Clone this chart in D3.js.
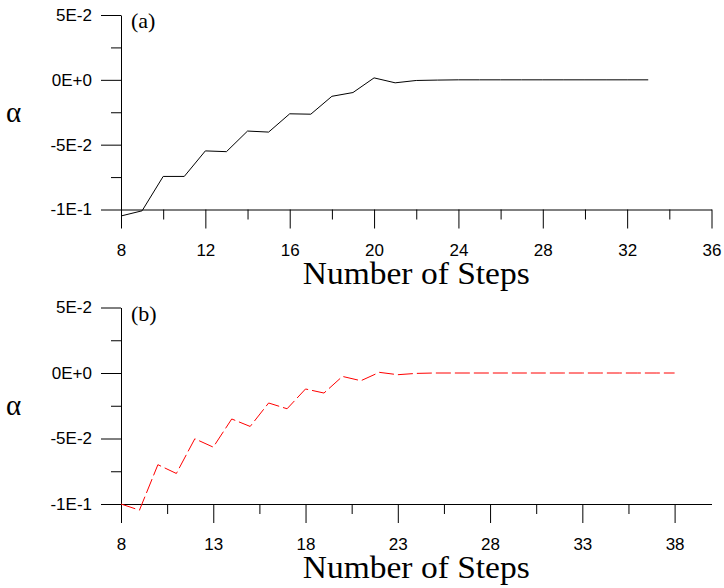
<!DOCTYPE html>
<html lang="en">
<head>
  <meta charset="UTF-8">
  <title>alpha vs number of steps</title>
  <script src="https://d3js.org/d3.v7.min.js"></script>
  <style>
    body { margin: 0; background: #fff; }
    svg { display: block; }
    .tick text { font-family: "Liberation Sans", Arial, sans-serif; font-size: 17px; fill: #000; }
    .tick line, .domain { stroke: #000; }
    .serif { font-family: "Liberation Serif", "Times New Roman", serif; fill: #000; }
  </style>
</head>
<body>
  <div id="chart"></div>

  <script>
    // panel (a): solid black line
    const stepsA = [8, 9, 10, 11, 12, 13, 14, 15, 16, 17, 18, 19, 20, 21, 22, 23, 24, 25, 26, 27, 28, 29, 30, 31, 32, 33];
    const alphaA = [-0.105, -0.101, -0.0745, -0.0745, -0.0548, -0.0554, -0.0395, -0.0403, -0.0262, -0.0265,
                    -0.0127, -0.0098, 0.0015, -0.0023, -0.0005, -0.0002, 0, 0, 0, 0, 0, 0, 0, 0, 0, 0];

    // panel (b): red dashed line
    const stepsB = [8, 9, 10, 11, 12, 13, 14, 15, 16, 17, 18, 19, 20, 21, 22, 23, 24, 25, 26, 27, 28, 29, 30,
                    31, 32, 33, 34, 35, 36, 37, 38];
    const alphaB = [-0.1, -0.1047, -0.07, -0.0767, -0.0502, -0.0566, -0.0351, -0.0408, -0.0229, -0.0273,
                    -0.0122, -0.0153, -0.0026, -0.0059, 0.0005, -0.0013, -0.0003, 0, 0, 0, 0, 0, 0,
                    0, 0, 0, 0, 0, 0, 0, 0];

    // axis ticks
    const yTicks = [0.05, 0, -0.05, -0.1];
    const yTickLabels = ["5E-2", "0E+0", "-5E-2", "-1E-1"];
    const yMinorTicks = [0.025, -0.025, -0.075];

    const xTicksA = [8, 12, 16, 20, 24, 28, 32, 36];
    const xMinorTicksA = [10, 14, 18, 22, 26, 30, 34];
    const xTicksB = [8, 13, 18, 23, 28, 33, 38];
    const xMinorTicksB = [10.5, 15.5, 20.5, 25.5, 30.5, 35.5];

    const width = 724, height = 588;
    const left = 121, right = 711.5;

    const svg = d3.select("#chart").append("svg")
      .attr("width", width)
      .attr("height", height);

    function drawPanel(opts) {
      const x = d3.scaleLinear().domain(opts.xDomain).range([left, right]);
      const y = d3.scaleLinear().domain([-0.1, 0.05]).range([opts.bottom, opts.top]);
      const g = svg.append("g");

      // minor ticks first
      g.append("g")
        .attr("transform", `translate(${left},0)`)
        .call(d3.axisLeft(y).tickValues(yMinorTicks).tickSize(10).tickFormat(""))
        .call(s => s.select(".domain").remove());
      g.append("g")
        .attr("transform", `translate(0,${opts.bottom})`)
        .call(d3.axisBottom(x).tickValues(opts.xMinor).tickSize(10).tickFormat(""))
        .call(s => s.select(".domain").remove());

      // major ticks with labels
      g.append("g")
        .attr("transform", `translate(${left},0)`)
        .call(d3.axisLeft(y).tickValues(yTicks).tickSize(20).tickSizeOuter(0).tickPadding(9)
          .tickFormat((d, i) => yTickLabels[i]));
      g.append("g")
        .attr("transform", `translate(0,${opts.bottom})`)
        .call(d3.axisBottom(x).tickValues(opts.xTicks).tickSize(19).tickSizeOuter(0))
        .call(s => s.selectAll(".tick text").attr("y", 46).attr("dy", null));

      // the data line
      const line = d3.line()
        .x((d, i) => x(opts.steps[i]))
        .y(d => y(d));
      g.append("path")
        .datum(opts.values)
        .attr("fill", "none")
        .attr("stroke", opts.color)
        .attr("stroke-width", 1)
        .attr("stroke-dasharray", opts.dash)
        .attr("d", line);

      // labels
      g.append("text")
        .attr("class", "serif")
        .attr("x", 6)
        .attr("y", opts.top + 107)
        .attr("font-size", "29px")
        .text("α");

      g.append("text")
        .attr("class", "serif")
        .attr("x", 131)
        .attr("y", opts.top + 13)
        .attr("font-size", "22px")
        .text(opts.tag);

      g.append("text")
        .attr("class", "serif")
        .attr("x", (left + right) / 2)
        .attr("y", opts.bottom + 74)
        .attr("text-anchor", "middle")
        .attr("font-size", "31px")
        .attr("textLength", 227)
        .attr("lengthAdjust", "spacingAndGlyphs")
        .text("Number of Steps");
    }

    drawPanel({
      top: 15, bottom: 209.5,
      xDomain: [8, 36], xTicks: xTicksA, xMinor: xMinorTicksA,
      steps: stepsA, values: alphaA,
      color: "#000", dash: null, tag: "(a)"
    });

    drawPanel({
      top: 307.5, bottom: 504,
      xDomain: [8, 40], xTicks: xTicksB, xMinor: xMinorTicksB,
      steps: stepsB, values: alphaB,
      color: "#ff0000", dash: "15,4", tag: "(b)"
    });
  </script>
</body>
</html>
